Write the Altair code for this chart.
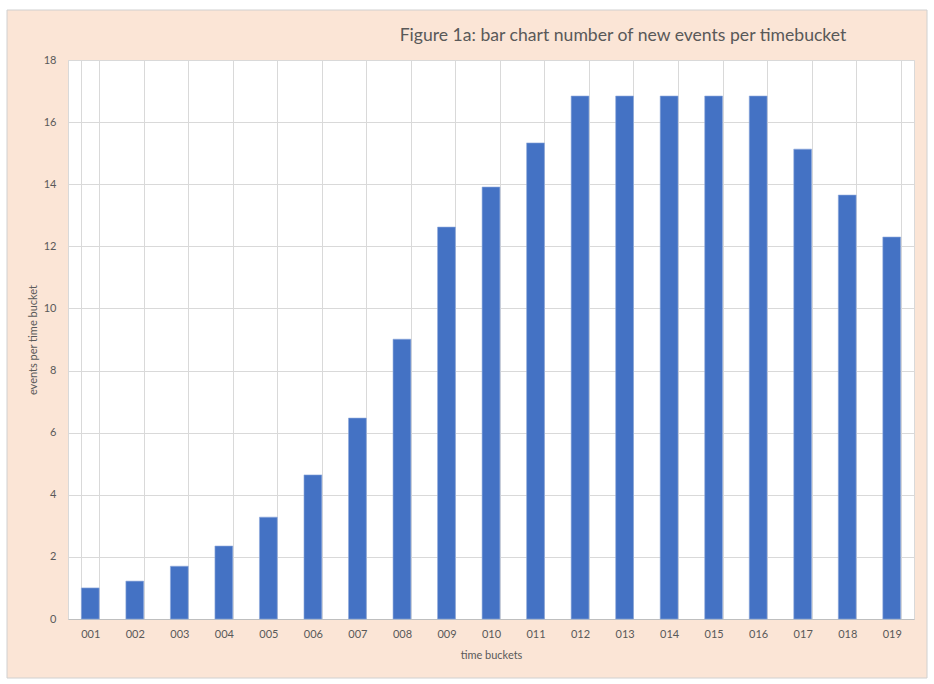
import altair as alt
import pandas as pd

buckets = ["001", "002", "003", "004", "005", "006", "007", "008", "009", "010",
           "011", "012", "013", "014", "015", "016", "017", "018", "019"]
events = [1.0, 1.22, 1.7, 2.35, 3.28, 4.64, 6.47, 9.01, 12.62, 13.91,
          15.33, 16.84, 16.84, 16.84, 16.84, 16.84, 15.13, 13.65, 12.3]
title_text = "Figure 1a: bar chart number of new events per timebucket"

df = pd.DataFrame({"bucket": buckets, "events": events})
frame_df = pd.DataFrame({"k": [0]})

W, H = 846, 559
FONT = "Lato"
TXT = "#595959"

bars = alt.Chart(df).mark_bar(color="#4472C4", stroke="#8FAADC", strokeWidth=0.6).encode(
    x=alt.X("bucket:N", sort=buckets,
            scale=alt.Scale(paddingInner=0.6, paddingOuter=0.3),
            axis=alt.Axis(title="time buckets", labelAngle=0, ticks=False, tickBand="extent",
                          grid=True, gridColor="#D9D9D9", domainColor="#BFBFBF",
                          labelPadding=9, titlePadding=10)),
    y=alt.Y("events:Q", scale=alt.Scale(domain=[0, 18], nice=False),
            axis=alt.Axis(title="events per time bucket", values=list(range(0, 19, 2)),
                          ticks=False, grid=True, gridColor="#D9D9D9",
                          domain=False, labelPadding=12, titlePadding=5)),
)

# white outer margin and thin border of the chart frame
margin = alt.Chart(frame_df).mark_rect(fill=None, stroke="white", strokeWidth=20).encode(
    x=alt.value(-71), x2=alt.value(869), y=alt.value(-60), y2=alt.value(628))
border = alt.Chart(frame_df).mark_rect(fill=None, stroke="#D0D0D0", strokeWidth=1).encode(
    x=alt.value(-61), x2=alt.value(859), y=alt.value(-50), y2=alt.value(618))
title = alt.Chart(frame_df).mark_text(
    text=title_text, font=FONT, fontSize=17.6, color=TXT, align="center", baseline="middle"
).encode(x=alt.value(555), y=alt.value(-24))

chart = alt.layer(bars, margin, border, title).properties(
    width=W, height=H,
    autosize=alt.AutoSizeParams(type="none"),
    padding={"left": 68, "top": 60, "right": 20, "bottom": 65},
    background="#FBE5D6",
).configure_view(fill="white", stroke="#D9D9D9").configure_axis(
    labelFont=FONT, titleFont=FONT, labelFontSize=11, titleFontSize=11,
    labelColor=TXT, titleColor=TXT, titleFontWeight="normal")

chart.save("out.html", embed_options={"renderer": "svg", "actions": False})
